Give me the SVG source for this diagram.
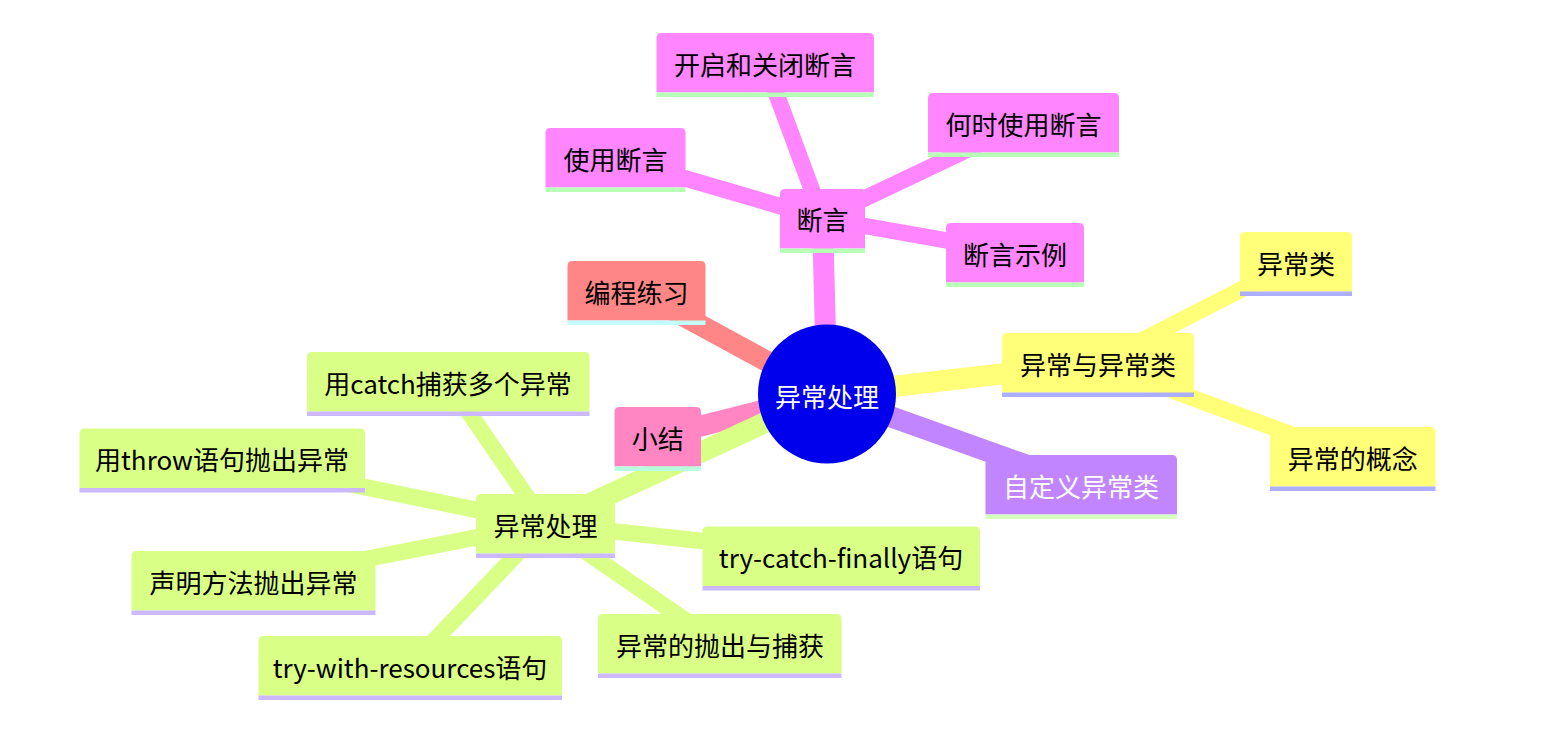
<svg xmlns="http://www.w3.org/2000/svg" width="1554" height="739" viewBox="0 0 1554 739">
<style>
  .e0 { fill: none; stroke-width: 21; }
  .e1 { fill: none; stroke-width: 16.5; }
  text { font-family: "Noto Sans CJK SC", "Noto Sans", sans-serif; font-size: 26px; text-anchor: middle; dominant-baseline: central; fill: #000; }
  .w { fill: #fff; }
  .s-pink { fill: #ff86ff; stroke: #ff86ff; }
  .t-pink { fill: #b8ffb8; }
  .s-yel { fill: #ffff78; stroke: #ffff78; }
  .t-yel { fill: #aeaeff; }
  .s-grn { fill: #d9ff86; stroke: #d9ff86; }
  .t-grn { fill: #ccb8ff; }
  .s-pur { fill: #c186ff; stroke: #c186ff; }
  .t-pur { fill: #d6ffbe; }
  .s-ros { fill: #ff86c2; stroke: #ff86c2; }
  .t-ros { fill: #b8ffe0; }
  .s-sal { fill: #ff8686; stroke: #ff8686; }
  .t-sal { fill: #c2ffff; }
  .box { stroke: none; }
</style>
<g id="connectors">
  <line class="e0 s-pink" x1="827" y1="394" x2="822.5" y2="218.5"/>
  <line class="e1 s-pink" x1="822.5" y1="218.5" x2="765" y2="63"/>
  <line class="e1 s-pink" x1="822.5" y1="218.5" x2="1023.5" y2="123"/>
  <line class="e1 s-pink" x1="822.5" y1="218.5" x2="615.5" y2="158"/>
  <line class="e1 s-pink" x1="822.5" y1="218.5" x2="1015" y2="252.5"/>
  <line class="e0 s-sal" x1="827" y1="394" x2="636.5" y2="290.5"/>
  <line class="e0 s-yel" x1="827" y1="394" x2="1098" y2="363"/>
  <line class="e1 s-yel" x1="1098" y1="363" x2="1296" y2="261.5"/>
  <line class="e1 s-yel" x1="1098" y1="363" x2="1352.7" y2="457"/>
  <line class="e0 s-pur" x1="827" y1="394" x2="1081" y2="484.5"/>
  <line class="e0 s-ros" x1="827" y1="394" x2="657.7" y2="437"/>
  <line class="e0 s-grn" x1="827" y1="394" x2="545.5" y2="524"/>
  <line class="e1 s-grn" x1="545.5" y1="524" x2="448" y2="382"/>
  <line class="e1 s-grn" x1="545.5" y1="524" x2="222" y2="458"/>
  <line class="e1 s-grn" x1="545.5" y1="524" x2="253.5" y2="581"/>
  <line class="e1 s-grn" x1="545.5" y1="524" x2="841" y2="556"/>
  <line class="e1 s-grn" x1="545.5" y1="524" x2="720" y2="644"/>
  <line class="e1 s-grn" x1="545.5" y1="524" x2="410" y2="666"/>
</g>
<g id="root">
  <ellipse cx="827" cy="394" rx="69" ry="69.5" fill="#0000ec"/>
  <text class="w" x="827" y="395">异常处理</text>
</g>
<g id="n-duanyan">
  <path class="box s-pink" d="M780 248.5 V194 Q780 189 785 189 H860 Q865 189 865 194 V248.5 Z"/>
  <rect class="t-pink" x="780" y="248.5" width="85" height="4.5"/>
  <text x="822.5" y="218.5">断言</text>
</g>
<g id="n-kaiqi">
  <path class="box s-pink" d="M656.5 92.5 V38 Q656.5 33 661.5 33 H869 Q874 33 874 38 V92.5 Z"/>
  <rect class="t-pink" x="656.5" y="92.5" width="217.5" height="4.5"/>
  <text x="765" y="63">开启和关闭断言</text>
</g>
<g id="n-heshi">
  <path class="box s-pink" d="M928 152.5 V98 Q928 93 933 93 H1114 Q1119 93 1119 98 V152.5 Z"/>
  <rect class="t-pink" x="928" y="152.5" width="191" height="4.5"/>
  <text x="1023.5" y="123">何时使用断言</text>
</g>
<g id="n-shiyong">
  <path class="box s-pink" d="M545.5 187.5 V133 Q545.5 128 550.5 128 H680.5 Q685.5 128 685.5 133 V187.5 Z"/>
  <rect class="t-pink" x="545.5" y="187.5" width="140" height="4.5"/>
  <text x="615.5" y="158">使用断言</text>
</g>
<g id="n-shili">
  <path class="box s-pink" d="M946 282.5 V228 Q946 223 951 223 H1079 Q1084 223 1084 228 V282.5 Z"/>
  <rect class="t-pink" x="946" y="282.5" width="138" height="4.5"/>
  <text x="1015" y="253">断言示例</text>
</g>
<g id="n-biancheng">
  <path class="box s-sal" d="M567.5 320.5 V266 Q567.5 261 572.5 261 H700.5 Q705.5 261 705.5 266 V320.5 Z"/>
  <rect class="t-sal" x="567.5" y="320.5" width="138" height="4.5"/>
  <text x="636.5" y="291">编程练习</text>
</g>
<g id="n-yichangyu">
  <path class="box s-yel" d="M1002 392.5 V338 Q1002 333 1007 333 H1189 Q1194 333 1194 338 V392.5 Z"/>
  <rect class="t-yel" x="1002" y="392.5" width="192" height="4.5"/>
  <text x="1098" y="363">异常与异常类</text>
</g>
<g id="n-yichanglei">
  <path class="box s-yel" d="M1240 291.5 V237 Q1240 232 1245 232 H1347 Q1352 232 1352 237 V291.5 Z"/>
  <rect class="t-yel" x="1240" y="291.5" width="112" height="4.5"/>
  <text x="1296" y="262">异常类</text>
</g>
<g id="n-gainian">
  <path class="box s-yel" d="M1270 486.5 V432 Q1270 427 1275 427 H1430.5 Q1435.5 427 1435.5 432 V486.5 Z"/>
  <rect class="t-yel" x="1270" y="486.5" width="165.5" height="4.5"/>
  <text x="1352.7" y="457">异常的概念</text>
</g>
<g id="n-zidingyi">
  <path class="box s-pur" d="M985.5 514.5 V460 Q985.5 455 990.5 455 H1172 Q1177 455 1177 460 V514.5 Z"/>
  <rect class="t-pur" x="985.5" y="514.5" width="191.5" height="4.5"/>
  <text class="w" x="1081" y="485">自定义异常类</text>
</g>
<g id="n-xiaojie">
  <path class="box s-ros" d="M614.5 466.5 V412 Q614.5 407 619.5 407 H696 Q701 407 701 412 V466.5 Z"/>
  <rect class="t-ros" x="614.5" y="466.5" width="86.5" height="4.5"/>
  <text x="657.7" y="437">小结</text>
</g>
<g id="n-chuli">
  <path class="box s-grn" d="M476 553.5 V499 Q476 494 481 494 H610 Q615 494 615 499 V553.5 Z"/>
  <rect class="t-grn" x="476" y="553.5" width="139" height="4.5"/>
  <text x="545.5" y="524">异常处理</text>
</g>
<g id="n-catch">
  <path class="box s-grn" d="M307 411.5 V357 Q307 352 312 352 H584.5 Q589.5 352 589.5 357 V411.5 Z"/>
  <rect class="t-grn" x="307" y="411.5" width="282.5" height="4.5"/>
  <text x="448" y="382">用catch捕获多个异常</text>
</g>
<g id="n-throw">
  <path class="box s-grn" d="M79.5 488 V433.5 Q79.5 428.5 84.5 428.5 H360 Q365 428.5 365 433.5 V488 Z"/>
  <rect class="t-grn" x="79.5" y="488" width="285.5" height="4.5"/>
  <text x="222" y="458.5">用throw语句抛出异常</text>
</g>
<g id="n-shengming">
  <path class="box s-grn" d="M131.5 610.5 V556 Q131.5 551 136.5 551 H370.5 Q375.5 551 375.5 556 V610.5 Z"/>
  <rect class="t-grn" x="131.5" y="610.5" width="244" height="4.5"/>
  <text x="253.5" y="581">声明方法抛出异常</text>
</g>
<g id="n-tcf">
  <path class="box s-grn" d="M702.5 586 V531.5 Q702.5 526.5 707.5 526.5 H975 Q980 526.5 980 531.5 V586 Z"/>
  <rect class="t-grn" x="702.5" y="586" width="277.5" height="4.5"/>
  <text x="841" y="556.5">try-catch-finally语句</text>
</g>
<g id="n-paochu">
  <path class="box s-grn" d="M598 673.5 V619 Q598 614 603 614 H836.5 Q841.5 614 841.5 619 V673.5 Z"/>
  <rect class="t-grn" x="598" y="673.5" width="243.5" height="4.5"/>
  <text x="720" y="644">异常的抛出与捕获</text>
</g>
<g id="n-twr">
  <path class="box s-grn" d="M258.5 695.5 V641 Q258.5 636 263.5 636 H557 Q562 636 562 641 V695.5 Z"/>
  <rect class="t-grn" x="258.5" y="695.5" width="303.5" height="4.5"/>
  <text x="410" y="666">try-with-resources语句</text>
</g>
</svg>
